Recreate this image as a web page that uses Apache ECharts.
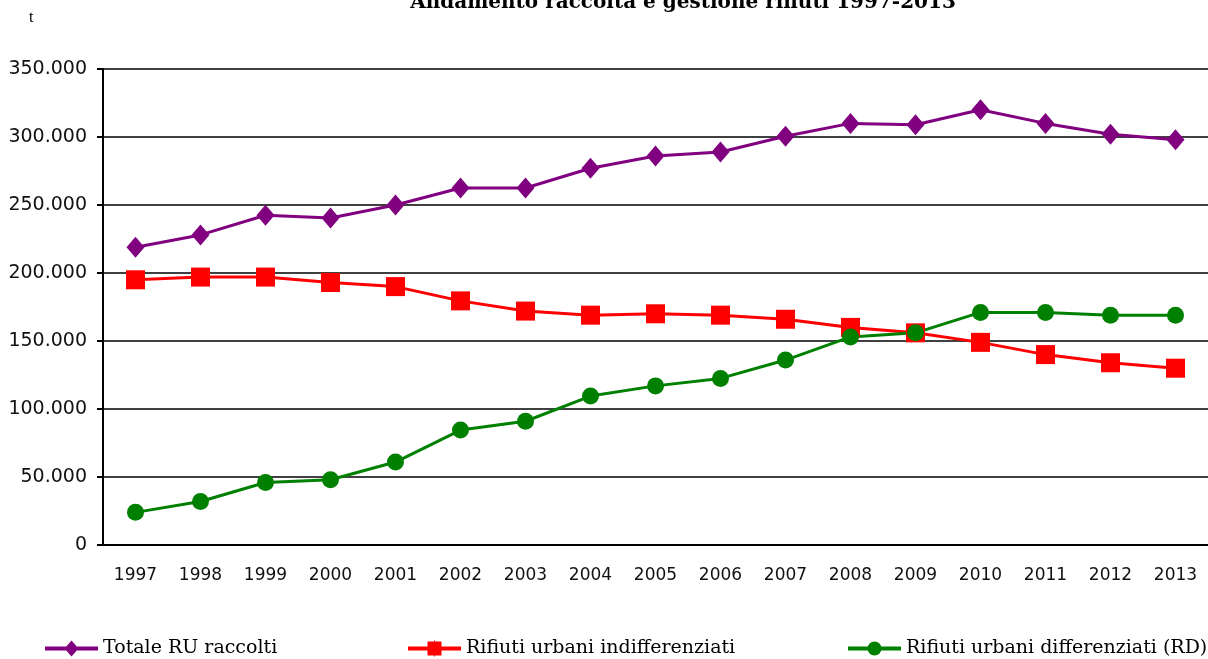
<!DOCTYPE html>
<html>
<head>
<meta charset="utf-8">
<title>Andamento raccolta e gestione rifiuti 1997-2013</title>
<script src="https://cdn.jsdelivr.net/npm/echarts@6/dist/echarts.min.js"></script>
<style>
  html, body { margin: 0; padding: 0; background: #fff; }
  #chart { width: 1208px; height: 659px; }
</style>
</head>
<body>
<div id="chart"></div>
<script>
// anni
const years = ['1997', '1998', '1999', '2000', '2001', '2002', '2003', '2004', '2005',
  '2006', '2007', '2008', '2009', '2010', '2011', '2012', '2013']

// tonnellate
const totaleRU = [219000, 228000, 242500, 240500, 250000, 262500, 262500, 277000, 286000,
  289000, 300500, 310000, 309000, 320000, 310000, 302000, 298000]
const indifferenziati = [195000, 197000, 197000, 193000, 190000, 179500, 172000, 169000, 170000,
  169000, 166000, 160000, 156000, 149000, 140000, 134000, 130000]
const differenziati = [24000, 32000, 46000, 48000, 61000, 84500, 91000, 109500, 117000,
  122500, 136000, 153000, 156000, 171000, 171000, 169000, 169000]

const seriesNames = ['Totale RU raccolti', 'Rifiuti urbani indifferenziati', 'Rifiuti urbani differenziati (RD)']

// 350000 -> 350.000
const fmt = (v) => String(v).replace(/\B(?=(\d{3})+(?!\d))/g, '.')

// icone legenda: linea spessa + marcatore
const iconDiamond = 'path://M0,6 L53,6 L53,10 L0,10 Z M26.5,0 L33.5,8 L26.5,16 L19.5,8 Z'
const iconSquare = 'path://M0,6 L53,6 L53,10 L0,10 Z M19.5,1 L33.5,1 L33.5,15 L19.5,15 Z M26,0 L27,0 L27,16 L26,16 Z'
const iconCircle = 'path://M0,5 L53,5 L53,9 L0,9 Z M33.5,7 A7,7 0 1 1 19.5,7 A7,7 0 1 1 33.5,7 Z'

const chart = echarts.init(document.getElementById('chart'))

const legendBase = {
  top: 634,
  itemWidth: 53,
  itemGap: 3,
  textStyle: { fontFamily: 'DejaVu Serif', fontSize: 19, color: '#000' }
}

const option = {
  animation: false,
  backgroundColor: '#fff',
  title: [
    {
      text: 'Andamento raccolta e gestione rifiuti 1997-2013',
      left: 678,
      textAlign: 'center',
      top: -12,
      textStyle: { fontFamily: 'DejaVu Serif', fontSize: 20, fontWeight: 'bold', color: '#000' }
    },
    {
      text: 't',
      left: 24,
      top: 5,
      textStyle: { fontFamily: 'Liberation Serif', fontSize: 16, fontWeight: 'normal', color: '#000' }
    }
  ],
  legend: [
    Object.assign({ left: 40, itemHeight: 16, data: [{ name: seriesNames[0], icon: iconDiamond }] }, legendBase),
    Object.assign({ left: 403, itemHeight: 16, data: [{ name: seriesNames[1], icon: iconSquare }] }, legendBase),
    Object.assign({ left: 843, itemHeight: 14, data: [{ name: seriesNames[2], icon: iconCircle }] }, legendBase)
  ],
  grid: { left: 103, top: 69, width: 1110, height: 476 },
  xAxis: {
    type: 'category',
    data: years,
    boundaryGap: true,
    axisLine: { lineStyle: { color: '#000', width: 2 } },
    axisTick: { length: 6, lineStyle: { color: '#000', width: 2 } },
    axisLabel: { interval: 0, margin: 22, fontFamily: 'DejaVu Sans', fontSize: 17, color: '#111' }
  },
  yAxis: {
    type: 'value',
    min: 0,
    max: 350000,
    interval: 50000,
    axisLine: { show: true, lineStyle: { color: '#000', width: 2 } },
    axisTick: { show: true, length: 6, lineStyle: { color: '#000', width: 2 } },
    splitLine: { lineStyle: { color: '#000', width: 1.5 } },
    axisLabel: { margin: 16, fontFamily: 'DejaVu Sans', fontSize: 19, color: '#111', formatter: fmt }
  },
  series: [
    {
      name: seriesNames[0],
      type: 'line',
      data: totaleRU,
      symbol: 'diamond',
      symbolSize: [18, 21],
      itemStyle: { color: '#800080' },
      lineStyle: { color: '#800080', width: 3 }
    },
    {
      name: seriesNames[1],
      type: 'line',
      data: indifferenziati,
      symbol: 'rect',
      symbolSize: 19,
      itemStyle: { color: '#ff0000' },
      lineStyle: { color: '#ff0000', width: 3 }
    },
    {
      name: seriesNames[2],
      type: 'line',
      data: differenziati,
      symbol: 'circle',
      symbolSize: 17,
      itemStyle: { color: '#008000' },
      lineStyle: { color: '#008000', width: 3 }
    }
  ]
}

chart.setOption(option)
</script>
</body>
</html>
